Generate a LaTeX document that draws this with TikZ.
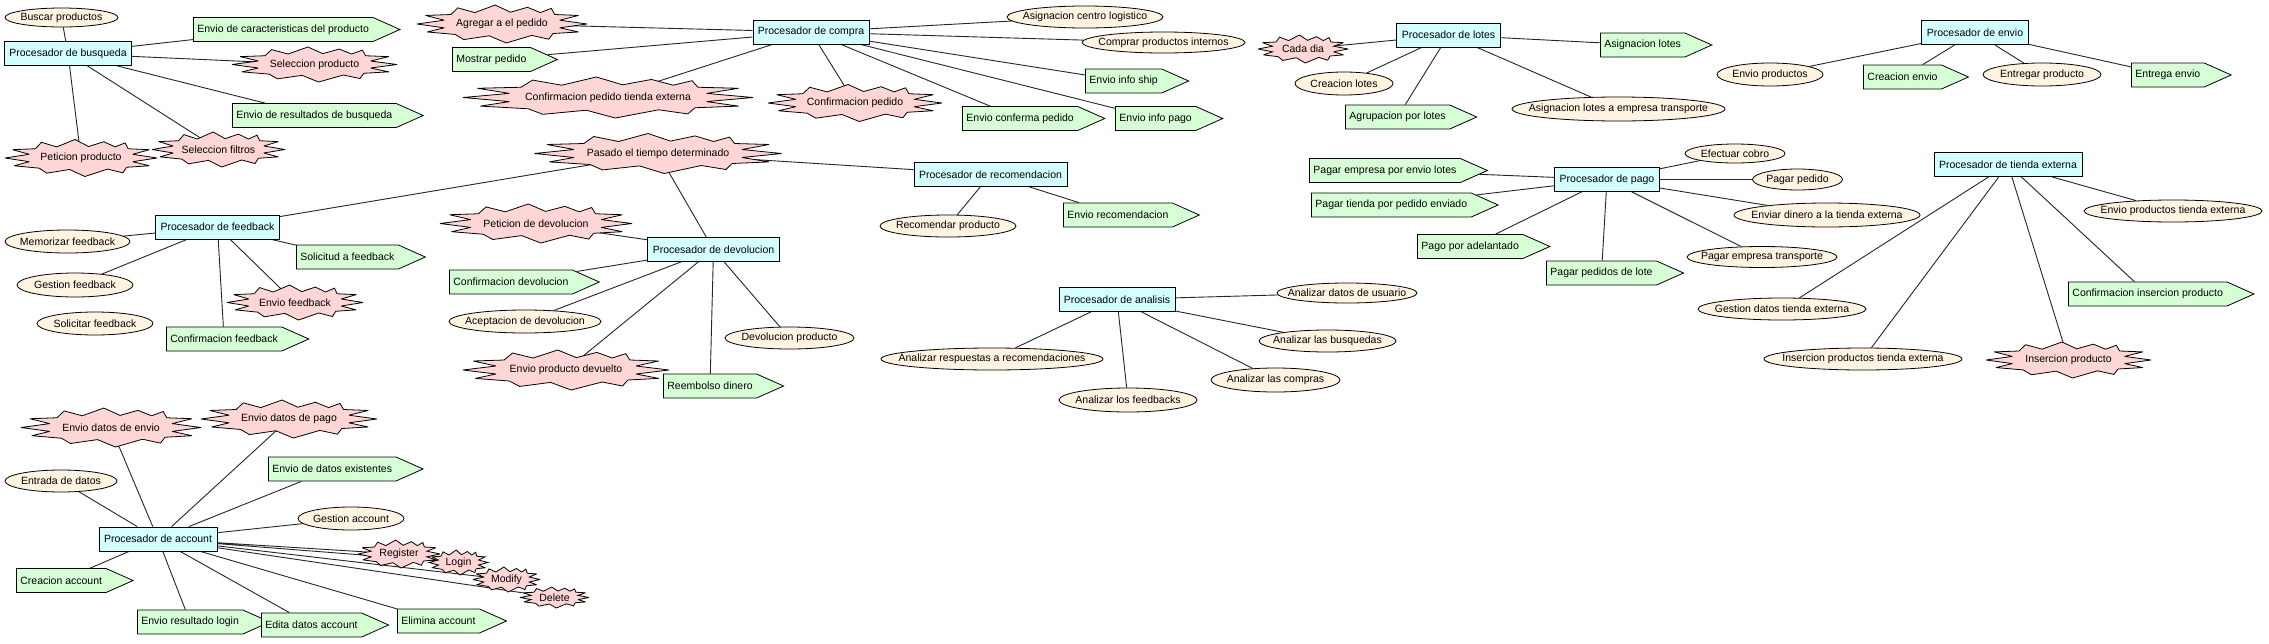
\documentclass[tikz,border=0pt]{standalone}
\usepackage{fontspec}
\setmainfont{Liberation Sans}
\usepackage{xcolor}
\usetikzlibrary{shapes.symbols,shapes.geometric,backgrounds}
\definecolor{procfill}{RGB}{212,255,255}
\definecolor{ellfill}{RGB}{255,244,226}
\definecolor{sigfill}{RGB}{214,255,214}
\definecolor{burstfill}{RGB}{255,214,214}
% burst event: name, x, y, half width, half height, text
\newcommand{\burstnode}[6]{%
  \filldraw[burstshape, shift={(#2,#3)}, xscale=#4, yscale=#5] (-1,0) -- (-0.68,-0.2) -- (-0.9,-0.45) -- (-0.6,-0.5) -- (-0.52,-0.85) -- (-0.32,-0.6) -- (-0.08,-1) -- (0.1,-0.62) -- (0.3,-0.88) -- (0.45,-0.6) -- (0.58,-0.82) -- (0.62,-0.5) -- (0.9,-0.45) -- (0.68,-0.2) -- (1,0) -- (0.68,0.2) -- (0.9,0.42) -- (0.6,0.5) -- (0.55,0.8) -- (0.35,0.6) -- (0.05,1) -- (-0.15,0.62) -- (-0.45,0.82) -- (-0.55,0.55) -- (-0.88,0.42) -- (-0.68,0.2) -- cycle;
  \node[burstcore, minimum width=1.1*#4pt, minimum height=0.9*#5pt] (#1) at (#2,#3) {#6};}

\begin{document}
\begin{tikzpicture}[x=1pt,y=1pt,yscale=-1,xscale=1,
  every node/.style={font=\fontsize{10.5}{12}\selectfont},
  proc/.style={draw, fill=procfill, rectangle, minimum height=24pt, inner xsep=5pt, line width=0.8pt},
  elli/.style={draw, fill=ellfill, ellipse, inner xsep=-60pt, inner ysep=-20pt, minimum height=22pt, line width=0.8pt},
  sig/.style={draw, fill=sigfill, signal, signal to=east, signal pointer angle=48, minimum height=24pt, inner xsep=4pt, anchor=west, line width=0.8pt},
  burstshape/.style={draw, fill=burstfill, line width=0.8pt, miter limit=4},
  burstcore/.style={rectangle, inner sep=0pt},
  link/.style={draw=black!85, line width=0.9pt}]

% Busqueda
\node[proc] (pbus) at (68,53.5) {Procesador de busqueda};
\node[elli, minimum width=113pt, minimum height=19pt] (ebus) at (61.5,17.5) {Buscar productos};
\node[sig] (scar) at (193,29.5) {Envio de caracteristicas del producto};
\burstnode{bsel}{314.5}{64.5}{82.5}{17.5}{Seleccion producto}
\node[sig] (sres) at (232,115.5) {Envio de resultados de busqueda};
\burstnode{bfil}{218.5}{149.5}{66.5}{17.5}{Seleccion filtros}
\burstnode{bpet}{81}{158}{76}{18.5}{Peticion producto}

% Compra
\node[proc] (pcom) at (811,32) {Procesador de compra};
\burstnode{bagr}{502}{24}{85}{19}{Agregar a el pedido}
\node[sig] (smos) at (452,59.5) {Mostrar pedido};
\burstnode{bcte}{608}{97.5}{145}{20.5}{Confirmacion pedido tienda externa}
\burstnode{bcpe}{855}{103}{87}{18.5}{Confirmacion pedido}
\node[elli, minimum width=156pt] (ecen) at (1085,17) {Asignacion centro logistico};
\node[elli, minimum width=163pt, minimum height=21pt] (eint) at (1163.5,42.5) {Comprar productos internos};
\node[sig] (sshi) at (1085,81) {Envio info ship};
\node[sig] (scnf) at (962,118.5) {Envio conferma pedido};
\node[sig] (sipg) at (1115,118.5) {Envio info pago};

% Lotes
\node[proc] (plot) at (1448.5,35) {Procesador de lotes};
\burstnode{bcad}{1303}{49}{45}{14}{Cada dia}
\node[elli, minimum width=98pt, minimum height=23pt] (eclo) at (1344,83.5) {Creacion lotes};
\node[sig] (sagr) at (1345,117) {Agrupacion por lotes};
\node[sig] (sasl) at (1600,45) {Asignacion lotes};
\node[elli, minimum width=213pt, minimum height=24pt] (eale) at (1618.5,109) {Asignacion lotes a empresa transporte};

% Envio
\node[proc] (penv) at (1975,32.5) {Procesador de envio};
\node[elli, minimum width=106pt, minimum height=23pt] (eenp) at (1770,74.5) {Envio productos};
\node[sig] (scre) at (1863,77) {Creacion envio};
\node[elli, minimum width=118pt, minimum height=23pt] (eenr) at (2042,74.5) {Entregar producto};
\node[sig] (senv) at (2131,75) {Entrega envio};

% Feedback
\node[proc] (pfee) at (217.5,227) {Procesador de feedback};
\node[elli, minimum width=125pt, minimum height=23pt] (emem) at (67.5,241.5) {Memorizar feedback};
\node[elli, minimum width=116pt, minimum height=24pt] (egfe) at (75,285) {Gestion feedback};
\node[elli, minimum width=116pt, minimum height=23pt] (esfe) at (95,323.5) {Solicitar feedback};
\node[sig] (ssfe) at (296,257) {Solicitud a feedback};
\burstnode{befe}{295}{302.5}{68}{17.5}{Envio feedback}
\node[sig] (scfe) at (166,339) {Confirmacion feedback};

% Devolucion y recomendacion
\burstnode{bpas}{658}{153.5}{123.5}{20}{Pasado el tiempo determinado}
\node[proc] (prec) at (990.5,174.5) {Procesador de recomendacion};
\node[elli, minimum width=136pt] (erec) at (948,226) {Recomendar producto};
\node[sig] (serc) at (1063,215) {Envio recomendacion};
\node[proc] (pdev) at (713.5,249.5) {Procesador de devolucion};
\burstnode{bpdv}{536}{223.5}{96}{19.5}{Peticion de devolucion}
\node[sig] (scdv) at (449,282) {Confirmacion devolucion};
\node[elli, minimum width=152pt, minimum height=23pt] (eace) at (525,321.5) {Aceptacion de devolucion};
\node[elli, minimum width=129pt] (edvp) at (789.5,338) {Devolucion producto};
\burstnode{bepd}{566}{370}{103}{20}{Envio producto devuelto}
\node[sig] (sree) at (663,386) {Reembolso dinero};

% Analisis
\node[proc] (pana) at (1117,299.5) {Procesador de analisis};
\node[elli, minimum width=140pt, minimum height=20pt] (eadu) at (1347,293) {Analizar datos de usuario};
\node[elli, minimum width=137pt] (eabu) at (1327.5,341) {Analizar las busquedas};
\node[elli, minimum width=129pt, minimum height=24pt] (eaco) at (1275.5,380) {Analizar las compras};
\node[elli, minimum width=138pt, minimum height=24pt] (eafe) at (1128,400) {Analizar los feedbacks};
\node[elli, minimum width=222pt] (eare) at (992,359) {Analizar respuestas a recomendaciones};

% Pago
\node[proc] (ppag) at (1607,179.5) {Procesador de pago};
\node[elli, minimum width=100pt, minimum height=19pt] (ecob) at (1735,153.5) {Efectuar cobro};
\node[elli, minimum width=90pt, minimum height=21pt] (eped) at (1797.5,179.5) {Pagar pedido};
\node[elli, minimum width=186pt, minimum height=24pt] (edin) at (1827,215) {Enviar dinero a la tienda externa};
\node[elli, minimum width=150pt, minimum height=21pt] (etra) at (1762,257) {Pagar empresa transporte};
\node[sig] (spel) at (1309,170.5) {Pagar empresa por envio lotes};
\node[sig] (sptp) at (1311,205) {Pagar tienda por pedido enviado};
\node[sig] (spad) at (1417,246.5) {Pago por adelantado};
\node[sig] (sppl) at (1546,273) {Pagar pedidos de lote};

% Tienda externa
\node[proc] (ptie) at (2008,164.5) {Procesador de tienda externa};
\node[elli, minimum width=178pt] (epte) at (2173,211) {Envio productos tienda externa};
\node[sig] (scip) at (2068,294) {Confirmacion insercion producto};
\node[elli, minimum width=168pt] (egdt) at (1782,309) {Gestion datos tienda externa};
\node[elli, minimum width=198pt] (eipt) at (1863,359) {Insercion productos tienda externa};
\burstnode{bins}{2068.5}{360}{82.5}{18}{Insercion producto}

% Account
\node[proc] (pacc) at (158,539) {Procesador de account};
\burstnode{bede}{111}{427.5}{90}{19.5}{Envio datos de envio}
\burstnode{bedp}{289}{419}{88}{19}{Envio datos de pago}
\node[elli, minimum width=112pt] (eend) at (61,481) {Entrada de datos};
\node[sig] (sdex) at (268,469) {Envio de datos existentes};
\node[elli, minimum width=106pt, minimum height=23pt] (egac) at (351,518.5) {Gestion account};
\node[sig] (scac) at (16,580.5) {Creacion account};
\node[sig] (serl) at (137,622) {Envio resultado login};
\node[sig] (seda) at (261,625) {Edita datos account};
\node[sig] (seli) at (397,621) {Elimina account};
\burstnode{breg}{399}{554}{41}{14}{Register}
\burstnode{blog}{458.5}{562.5}{29.5}{12.5}{Login}
\burstnode{bmod}{506.5}{579.5}{33.5}{12.5}{Modify}
\burstnode{bdel}{554.5}{597.5}{34.5}{10.5}{Delete}

%Straight Lines
\begin{pgfonlayer}{background}
\path[fill=white] (0,0) rectangle (2269,643);
\path[link] (pbus) -- (ebus) (pbus) -- (scar) (pbus) -- (bsel) (pbus) -- (sres) (pbus) -- (bfil) (pbus) -- (bpet);
\path[link] (pcom) -- (bagr) (pcom) -- (smos) (pcom) -- (bcte) (pcom) -- (bcpe) (pcom) -- (ecen) (pcom) -- (eint) (pcom) -- (sshi) (pcom) -- (scnf) (pcom) -- (sipg);
\path[link] (plot) -- (bcad) (plot) -- (eclo) (plot) -- (sagr) (plot) -- (sasl) (plot) -- (eale);
\path[link] (penv) -- (eenp) (penv) -- (scre) (penv) -- (eenr) (penv) -- (senv);
\path[link] (pfee) -- (emem) (pfee) -- (egfe) (pfee) -- (ssfe) (pfee) -- (befe) (pfee) -- (scfe) (pfee) -- (bpas);
\path[link] (prec) -- (bpas) (prec) -- (erec) (prec) -- (serc);
\path[link] (pdev) -- (bpas) (pdev) -- (bpdv) (pdev) -- (scdv) (pdev) -- (eace) (pdev) -- (bepd) (pdev) -- (sree) (pdev) -- (edvp);
\path[link] (pana) -- (eadu) (pana) -- (eabu) (pana) -- (eaco) (pana) -- (eafe) (pana) -- (eare);
\path[link] (ppag) -- (ecob) (ppag) -- (eped) (ppag) -- (edin) (ppag) -- (etra) (ppag) -- (sppl) (ppag) -- (spad) (ppag) -- (sptp) (ppag) -- (spel);
\path[link] (ptie) -- (epte) (ptie) -- (scip) (ptie) -- (bins) (ptie) -- (eipt) (ptie) -- (egdt);
\path[link] (pacc) -- (bede) (pacc) -- (bedp) (pacc) -- (eend) (pacc) -- (sdex) (pacc) -- (egac) (pacc) -- (breg) (pacc) -- (blog) (pacc) -- (bmod) (pacc) -- (bdel) (pacc) -- (scac) (pacc) -- (serl) (pacc) -- (seda) (pacc) -- (seli);
\end{pgfonlayer}
\end{tikzpicture}
\end{document}
